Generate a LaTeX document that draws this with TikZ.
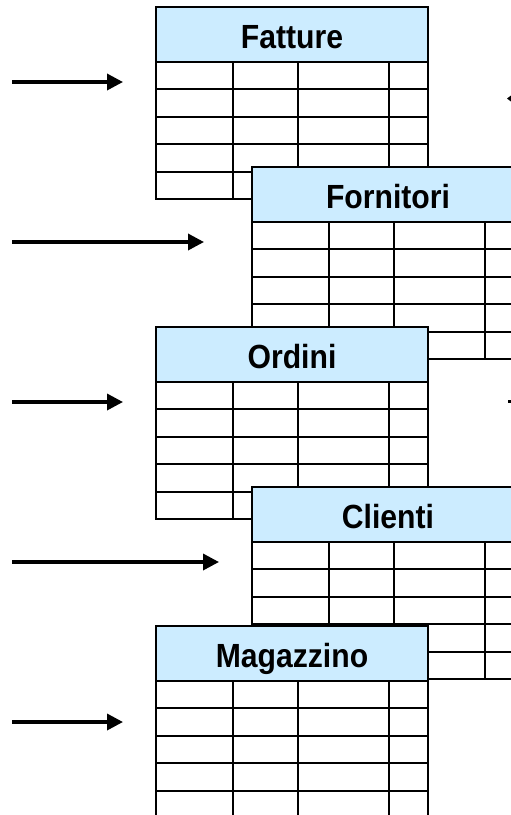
\documentclass[tikz,border=0pt]{standalone}
\usepackage{fontspec}
\setmainfont{Liberation Sans}
\newfontfamily\hdrfont[FakeStretch=0.9]{Liberation Sans}
\usetikzlibrary{arrows.meta}
\definecolor{hdrblue}{HTML}{CCECFF}
\tikzset{
  gridline/.style={line width=2pt, black},
  hdrtext/.style={anchor=base, inner sep=0pt, font=\hdrfont\bfseries\fontsize{33.5}{33.5}\selectfont},
  feedarrow/.style={line width=3.5pt, -{Triangle[length=16pt,width=16pt]}},
}
\newcommand\dbtable[4]{%
  \begin{scope}[shift={(#2,#3)}]
    \fill[white] (0,0) rectangle (272,192);
    \fill[hdrblue] (0,0) rectangle (272,55);
    \foreach \yy in {55,82.4,109.8,137.2,164.6} \draw[gridline] (0,\yy) -- (272,\yy);
    \foreach \xx in {77,142,233} \draw[gridline] (\xx,55) -- (\xx,192);
    \draw[gridline] (0,0) rectangle (272,192);
    \node[hdrtext] (#1) at (136,41.3) {#4};
  \end{scope}}
\begin{document}
\begin{tikzpicture}[x=1pt,y=-1pt]
  \useasboundingbox (0,0) rectangle (511,815);
  \clip (0,0) rectangle (511,815);
  \fill[white] (0,0) rectangle (511,815);
  \dbtable{fatture}{156}{7}{Fatture}
  \dbtable{fornitori}{252}{167}{Fornitori}
  \dbtable{ordini}{156}{327}{Ordini}
  \dbtable{clienti}{252}{487}{Clienti}
  \dbtable{magazzino}{156}{626}{Magazzino}
  \coordinate (s1) at (12,82);  \coordinate (e1) at (123,82);
  \coordinate (s2) at (12,242); \coordinate (e2) at (204,242);
  \coordinate (s3) at (12,402); \coordinate (e3) at (123,402);
  \coordinate (s4) at (12,562); \coordinate (e4) at (219,562);
  \coordinate (s5) at (12,722); \coordinate (e5) at (123,722);
  \foreach \i in {1,...,5} \draw[feedarrow] (s\i) -- (e\i);
  \fill[black] (507,98.5) -- (511,95.5) -- (511,101.5) -- cycle;
  \fill[black] (508,400) rectangle (511,403);
\end{tikzpicture}
\end{document}
